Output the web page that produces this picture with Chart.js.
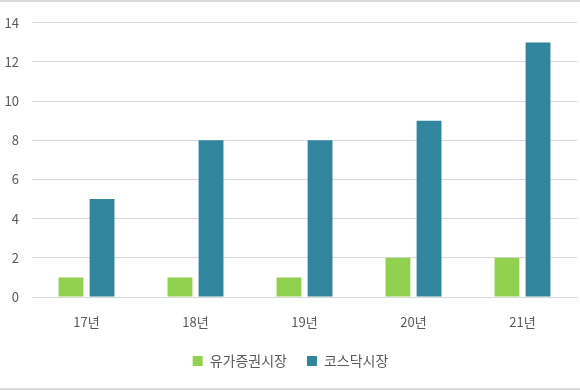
<!DOCTYPE html>
<html><head><meta charset="utf-8">
<script src="https://cdn.jsdelivr.net/npm/chart.js@4/dist/chart.umd.min.js"></script>
<style>
html,body{margin:0;padding:0;background:#fff;}
#wrap{position:relative;width:580px;height:390px;box-sizing:border-box;border-top:2px solid #d9d9d9;border-bottom:2px solid #d9d9d9;}
canvas{display:block;}
</style></head>
<body><div id="wrap"><canvas id="c" width="580" height="386"></canvas></div>
<script>
const categories = ['17년','18년','19년','20년','21년'];
const seriesNames = ['유가증권시장','코스닥시장'];
const kospi = [1,1,1,2,2];
const kosdaq = [5,8,8,9,13];
const yTicks = [0,2,4,6,8,10,12,14];

const FONT = '"Noto Sans CJK KR","Noto Sans",sans-serif';
new Chart(document.getElementById('c'), {
  type: 'bar',
  data: {
    labels: categories,
    datasets: [
      {label: seriesNames[0], data: kospi, backgroundColor: '#92D050', categoryPercentage: 0.57, barPercentage: 0.8},
      {label: seriesNames[1], data: kosdaq, backgroundColor: '#31859C', categoryPercentage: 0.57, barPercentage: 0.8}
    ]
  },
  options: {
    responsive: false,
    animation: false,
    layout: {padding: {left: 4, right: 3, top: 18, bottom: 10}},
    plugins: {
      tooltip: {enabled: false},
      legend: {
        position: 'bottom',
        labels: {boxWidth: 10, boxHeight: 10, padding: 20, color: '#595959', font: {family: FONT, size: 14}}
      }
    },
    scales: {
      x: {
        grid: {display: false, drawTicks: false},
        border: {display: true, color: '#d9d9d9', width: 1},
        ticks: {color: '#595959', padding: 17, font: {family: FONT, size: 13}},
        afterFit: s => { s.height = 37; }
      },
      y: {
        min: 0, max: 14,
        afterBuildTicks: s => { s.ticks = yTicks.map(v => ({value: v})); },
        grid: {color: '#d9d9d9', drawTicks: false, lineWidth: 1},
        border: {display: false},
        ticks: {color: '#595959', padding: 13, font: {family: FONT, size: 13}},
        afterFit: s => { s.width = 28; }
      }
    }
  }
});
</script></body></html>
